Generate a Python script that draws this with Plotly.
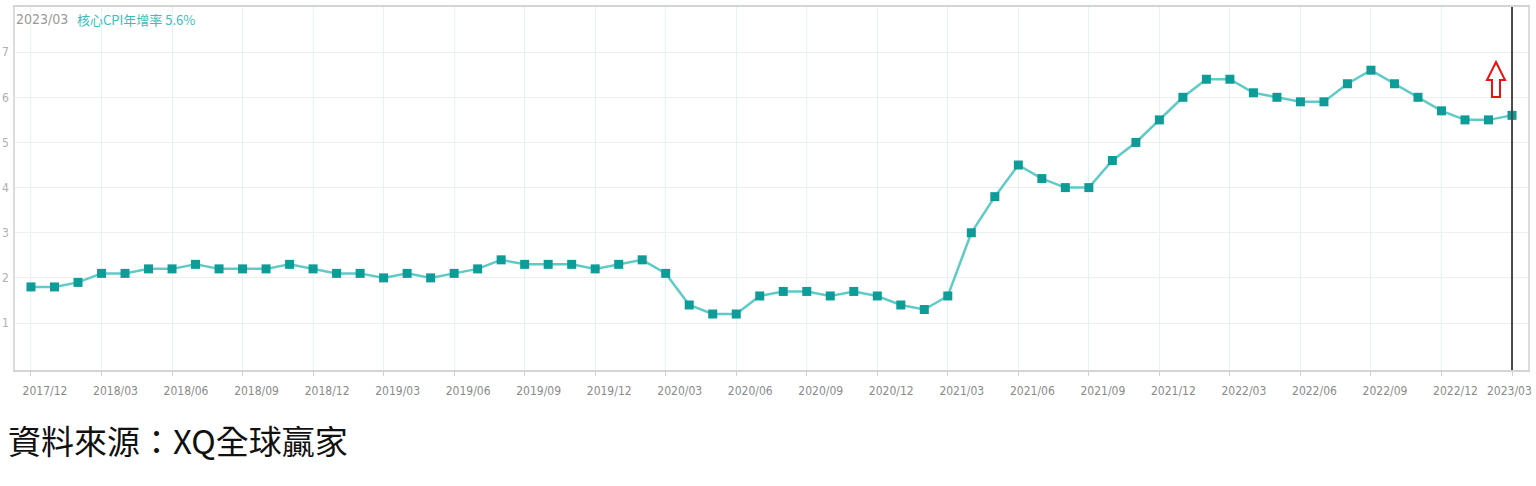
import plotly.graph_objects as go

# ---- data ----
months = [
    "2017/12",
    "2018/01", "2018/02", "2018/03", "2018/04", "2018/05", "2018/06",
    "2018/07", "2018/08", "2018/09", "2018/10", "2018/11", "2018/12",
    "2019/01", "2019/02", "2019/03", "2019/04", "2019/05", "2019/06",
    "2019/07", "2019/08", "2019/09", "2019/10", "2019/11", "2019/12",
    "2020/01", "2020/02", "2020/03", "2020/04", "2020/05", "2020/06",
    "2020/07", "2020/08", "2020/09", "2020/10", "2020/11", "2020/12",
    "2021/01", "2021/02", "2021/03", "2021/04", "2021/05", "2021/06",
    "2021/07", "2021/08", "2021/09", "2021/10", "2021/11", "2021/12",
    "2022/01", "2022/02", "2022/03", "2022/04", "2022/05", "2022/06",
    "2022/07", "2022/08", "2022/09", "2022/10", "2022/11", "2022/12",
    "2023/01", "2023/02", "2023/03",
]
core_cpi_yoy = [
    1.8,
    1.8, 1.9, 2.1, 2.1, 2.2, 2.2,
    2.3, 2.2, 2.2, 2.2, 2.3, 2.2,
    2.1, 2.1, 2.0, 2.1, 2.0, 2.1,
    2.2, 2.4, 2.3, 2.3, 2.3, 2.2,
    2.3, 2.4, 2.1, 1.4, 1.2, 1.2,
    1.6, 1.7, 1.7, 1.6, 1.7, 1.6,
    1.4, 1.3, 1.6, 3.0, 3.8, 4.5,
    4.2, 4.0, 4.0, 4.6, 5.0, 5.5,
    6.0, 6.4, 6.4, 6.1, 6.0, 5.9,
    5.9, 6.3, 6.6, 6.3, 6.0, 5.7,
    5.5, 5.5, 5.6,
]
x_ticks = ["2017/12", "2018/03", "2018/06", "2018/09", "2018/12", "2019/03",
           "2019/06", "2019/09", "2019/12", "2020/03", "2020/06", "2020/09",
           "2020/12", "2021/03", "2021/06", "2021/09", "2021/12", "2022/03",
           "2022/06", "2022/09", "2022/12", "2023/03"]
y_ticks = [1, 2, 3, 4, 5, 6, 7]
series_name = "核心CPI年增率"
source_text = "資料來源：XQ全球贏家"

# ---- layout geometry (pixels) ----
W, H = 1536, 486
L, R, T, B = 15, 8, 7, 116
pw, ph = W - L - R, H - T - B


def px(x):  # screen x -> paper
    return (x - L) / pw


def py(y):  # screen y -> paper
    return (H - B - y) / ph


narrow = "Liberation Sans Narrow, DejaVu Sans Condensed, Arial Narrow, sans-serif"
tick_font = dict(family=narrow, size=12, color="#8a8a8a")

# last tick label is drawn separately so it stays inside the page edge
tick_text = list(x_ticks[:-1]) + [""]

fig = go.Figure()
fig.add_trace(go.Scatter(
    x=months, y=core_cpi_yoy, mode="lines+markers",
    line=dict(color="#5fcbc6", width=2.5),
    marker=dict(symbol="square", size=9, color="#0e9c99", line=dict(width=0)),
    showlegend=False,
))

# vertical cursor line at latest month
fig.add_shape(type="line", xref="x", yref="paper",
              x0=months[-1], x1=months[-1], y0=0, y1=1,
              line=dict(color="#4a4a4a", width=2))

# red hollow up arrow
ax = [1496, 1505, 1500, 1500, 1492, 1492, 1487]
ay = [62, 80, 80, 97, 97, 80, 80]
path = "M " + " L ".join(f"{px(a):.5f},{py(b):.5f}" for a, b in zip(ax, ay)) + " Z"
fig.add_shape(type="path", xref="paper", yref="paper", path=path,
              line=dict(color="#ee1111", width=2), fillcolor="white")

# last x tick label
fig.add_annotation(xref="paper", yref="paper", x=px(1534), y=py(390.5),
                   xanchor="right", yanchor="middle", showarrow=False,
                   text=x_ticks[-1], font=tick_font)

# header texts
fig.add_annotation(xref="paper", yref="paper", x=px(14), y=py(19),
                   xanchor="left", yanchor="middle", showarrow=False,
                   text=months[-1], font=dict(family=narrow, size=14, color="#9a9a9a"))
fig.add_annotation(xref="paper", yref="paper", x=px(75), y=py(19),
                   xanchor="left", yanchor="middle", showarrow=False,
                   text=f"{series_name} {core_cpi_yoy[-1]}%",
                   font=dict(family="Noto Sans CJK TC, " + narrow, size=13, color="#3bbdbb"))

# source note
fig.add_annotation(xref="paper", yref="paper", x=px(6), y=py(440),
                   xanchor="left", yanchor="middle", showarrow=False,
                   text=source_text,
                   font=dict(family="Noto Sans CJK TC", size=33, color="#111111"))

fig.update_layout(
    width=W, height=H,
    margin=dict(l=L, r=R, t=T, b=B, pad=0, autoexpand=False),
    paper_bgcolor="white", plot_bgcolor="white",
    xaxis=dict(
        type="category", range=[-0.68, 63.68], automargin=False,
        tickmode="array", tickvals=x_ticks, ticktext=tick_text,
        tickangle=0,
        showgrid=True, gridcolor="#e2f2f8", gridwidth=1,
        showline=True, linecolor="#d4d4d4", linewidth=1.5, mirror=True,
        ticks="outside", ticklen=4, tickcolor="#cfcfcf",
        tickfont=tick_font,
        ticklabelshift=14, ticklabelstandoff=5,
        zeroline=False, fixedrange=True,
    ),
    yaxis=dict(
        range=[-0.04, 8.0], automargin=False,
        tickmode="array", tickvals=y_ticks,
        showgrid=True, gridcolor="#efefef", gridwidth=1,
        showline=True, linecolor="#dcdcdc", linewidth=1.5, mirror=True,
        ticks="", tickfont=dict(family=narrow, size=12, color="#b0b0b0"),
        ticklabelstandoff=2,
        zeroline=False, fixedrange=True,
    ),
)

# remove the browser's default body margin so the figure sits at the page origin
fig.write_html("out.html",
               config={"displayModeBar": False},
               post_script="document.body.style.margin='0';document.body.style.overflow='hidden';")
